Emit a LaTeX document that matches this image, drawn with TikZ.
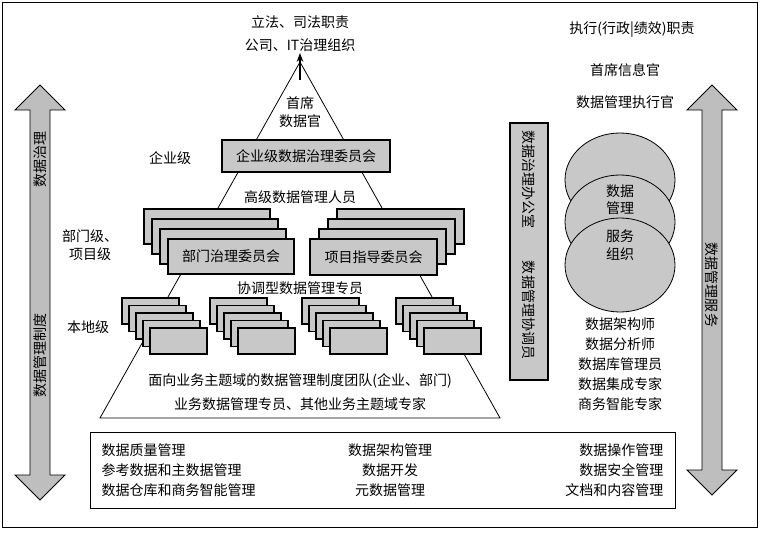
\documentclass[tikz,border=0pt]{standalone}
\usepackage{fontspec}
\setmainfont{Noto Sans CJK SC}
\usepackage{tikz}
\usetikzlibrary{arrows.meta,shapes,positioning,calc}
\definecolor{dmgray}{RGB}{200,200,200}
\definecolor{dmarrow}{RGB}{190,190,190}

\tikzset{
  lbl/.style={font=\fontsize{10.5}{13}\selectfont, align=center, inner sep=1pt},
  graybox/.style={draw, fill=dmgray, line width=0.8pt},
  bigarrow/.style={draw, fill=dmarrow, line width=0.6pt},
}
\newcommand{\dblarrow}[3]{% x, ytop, ybottom
  \draw[bigarrow] (#1,#2) -- (#1+25,#2+25) -- (#1+10,#2+25) -- (#1+10,#3-25) -- (#1+25,#3-25)
    -- (#1,#3) -- (#1-25,#3-25) -- (#1-10,#3-25) -- (#1-10,#2+25) -- (#1-25,#2+25) -- cycle;}

\begin{document}
\begin{tikzpicture}[x=0.75pt, y=-0.75pt]
    \useasboundingbox (0,0) rectangle (762,534);
    % Frame
    \draw[line width=0.6pt] (2,2) rectangle (757,527);

    % Top labels
    \node[lbl] (legal) at (300,22) {立法、司法职责};
    \node[lbl] (corp) at (300,45) {公司、IT治理组织};

    % Pyramid
    \coordinate (apex) at (300,62);
    \draw[line width=0.6pt] (apex) -- (100,418) -- (500,418) -- cycle;
    \draw[-{Stealth}, thick] (300,80) -- (corp.south);
    \node[lbl] (cdo) at (300,112) {首席\\数据官};

    % Enterprise level
    \node[graybox, lbl, minimum width=168*0.75pt, minimum height=32*0.75pt] (ent) at (306,156) {企业级数据治理委员会};
    \node[lbl] (entlvl) at (170,158) {企业级};
    \node[lbl] (senior) at (300,197) {高级数据管理人员};

    % Department / project level
    \foreach \i in {3,2,1} {
      \draw[graybox] (168-8*\i,239-10*\i) rectangle (294-8*\i,274-10*\i);
      \draw[graybox] (310+9*\i,239-10*\i) rectangle (437+9*\i,274-10*\i);
    }
    \node[graybox, lbl, minimum width=126*0.75pt, minimum height=35*0.75pt] (dept) at (231,256.5) {部门治理委员会};
    \node[graybox, lbl, minimum width=127*0.75pt, minimum height=36*0.75pt] (proj) at (373.5,257) {项目指导委员会};
    \node[lbl] (deptlvl) at (90,245) {部门级、\\项目级};
    \node[lbl] (coord) at (300,288) {协调型数据管理专员};

    % Local level
    \foreach \sx in {122,210,302,396} {
      \foreach \j in {0,...,4} {
        \draw[graybox] (\sx+7*\j,298+7.5*\j) rectangle (\sx+57+7*\j,324+7.5*\j);
      }
    }
    \node[lbl] (loclvl) at (88,327) {本地级};
    \node[lbl] (team) at (300,381) {面向业务主题域的数据管理制度团队(企业、部门)};
    \node[lbl] (experts) at (300,404) {业务数据管理专员、其他业务主题域专家};

    % Left arrow
    \dblarrow{40}{85}{500}
    \node[lbl, rotate=90] (gov) at (40,160) {数据治理};
    \node[lbl, rotate=90] (pol) at (40,355) {数据管理制度};

    % Middle office
    \draw[graybox] (510,123) rectangle (548,380);
    \node[lbl, rotate=-90] (office) at (529,180) {数据治理办公室};
    \node[lbl, rotate=-90] (coordr) at (529,310) {数据管理协调员};

    % Right side
    \node[lbl] (exec) at (632,30) {执行(行政|绩效)职责};
    \node[lbl] (cio) at (625,70) {首席信息官};
    \node[lbl] (dmexec) at (625,102) {数据管理执行官};
    \foreach \cy in {180,222,265}
      \draw[fill=dmgray, line width=0.6pt] (620,\cy) ellipse (55 and 47);
    \node[lbl] (svc1) at (620,200) {数据\\管理};
    \node[lbl] (svc2) at (620,245) {服务\\组织};
    \node[lbl, font=\fontsize{10.5}{15}\selectfont] (roles) at (620,364) {数据架构师\\数据分析师\\数据库管理员\\数据集成专家\\商务智能专家};

    % Right arrow
    \dblarrow{712}{85}{495}
    \node[lbl, rotate=-90] (dms) at (712,285) {数据管理服务};

    % Bottom functions
    \draw[line width=0.6pt] (90,432) rectangle (675,508);
    \node[lbl, align=left, anchor=west, font=\fontsize{10.5}{15}\selectfont] (funcl) at (100,470) {数据质量管理\\参考数据和主数据管理\\数据仓库和商务智能管理};
    \node[lbl, font=\fontsize{10.5}{15}\selectfont] (funcm) at (390,470) {数据架构管理\\数据开发\\元数据管理};
    \node[lbl, align=right, anchor=east, font=\fontsize{10.5}{15}\selectfont] (funcr) at (665,470) {数据操作管理\\数据安全管理\\文档和内容管理};
\end{tikzpicture}
\end{document}
